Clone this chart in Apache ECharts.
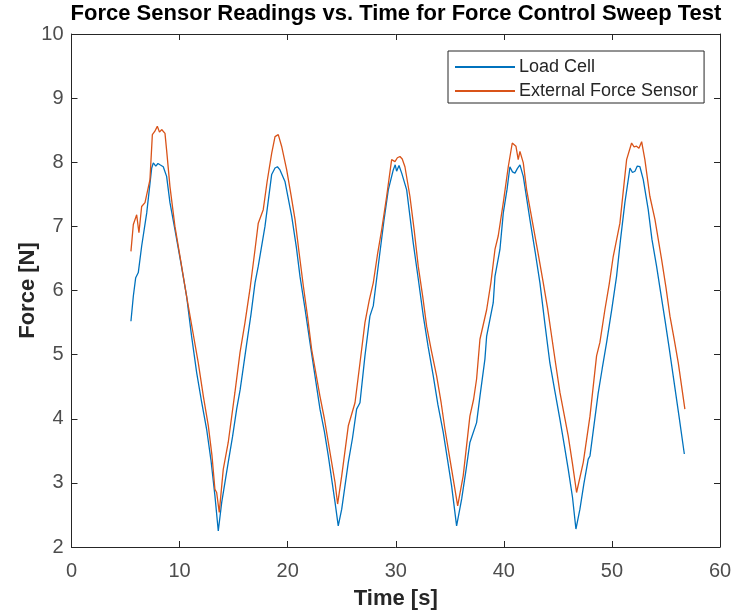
<!DOCTYPE html>
<html>
<head>
<meta charset="utf-8">
<title>Force Sensor Readings</title>
<script src="https://cdn.jsdelivr.net/npm/echarts@6/dist/echarts.min.js"></script>
<style>
  html, body { margin: 0; padding: 0; background: #fff; }
  #chart { width: 735px; height: 615px; }
</style>
</head>
<body>
<div id="chart"></div>
<script>
// Load cell samples: time [s] and force [N]
const loadCellTime = [5.5, 5.72, 5.94, 6.18, 6.49, 6.96, 7.42, 7.57, 7.8, 8.0, 8.19, 8.49, 8.8, 9.11, 9.57, 10.1, 10.65, 11.1, 11.58, 12.0, 12.5, 12.9, 13.27, 13.58, 13.9, 14.5, 14.9, 15.28, 15.6, 16.2, 16.6, 16.98, 17.28, 17.9, 18.52, 18.83, 19.05, 19.29, 19.75, 20.37, 20.8, 21.14, 21.6, 22.06, 22.5, 22.99, 23.4, 23.76, 24.38, 24.68, 25.0, 25.61, 26.0, 26.38, 26.69, 27.15, 27.61, 27.92, 28.54, 28.9, 29.31, 29.77, 29.95, 30.08, 30.3, 30.55, 31.01, 31.62, 32.1, 32.55, 33.0, 33.47, 33.9, 34.39, 34.8, 35.17, 35.63, 36.1, 36.5, 36.86, 37.48, 37.79, 38.25, 38.41, 39.02, 39.18, 39.64, 39.95, 40.3, 40.56, 40.8, 41.03, 41.25, 41.49, 41.8, 42.41, 42.9, 43.34, 43.8, 44.26, 44.7, 45.19, 45.6, 45.96, 46.35, 46.67, 47.04, 47.4, 47.81, 47.97, 48.73, 49.1, 49.51, 50.0, 50.43, 50.8, 51.2, 51.67, 51.9, 52.13, 52.35, 52.59, 52.9, 53.36, 53.7, 54.13, 54.5, 54.9, 55.3, 55.67, 56.2, 56.7];
const loadCellForce = [5.52, 5.91, 6.2, 6.28, 6.69, 7.21, 7.91, 7.99, 7.94, 7.98, 7.96, 7.93, 7.78, 7.37, 6.95, 6.45, 5.91, 5.3, 4.72, 4.3, 3.84, 3.36, 2.8, 2.25, 2.7, 3.32, 3.72, 4.15, 4.45, 5.16, 5.62, 6.12, 6.38, 7.0, 7.81, 7.91, 7.93, 7.88, 7.7, 7.16, 6.68, 6.22, 5.72, 5.19, 4.7, 4.15, 3.8, 3.42, 2.7, 2.33, 2.59, 3.32, 3.7, 4.15, 4.25, 4.98, 5.6, 5.76, 6.6, 7.08, 7.57, 7.88, 7.96, 7.86, 7.95, 7.83, 7.57, 6.74, 6.16, 5.6, 5.12, 4.67, 4.22, 3.79, 3.35, 2.95, 2.33, 2.75, 3.2, 3.63, 3.94, 4.35, 4.93, 5.29, 5.81, 6.22, 6.64, 7.21, 7.58, 7.93, 7.85, 7.83, 7.9, 7.96, 7.78, 7.11, 6.6, 6.12, 5.48, 4.87, 4.45, 3.99, 3.58, 3.21, 2.78, 2.28, 2.59, 2.98, 3.37, 3.42, 4.4, 4.78, 5.19, 5.72, 6.22, 6.8, 7.37, 7.91, 7.84, 7.86, 7.94, 7.93, 7.73, 7.26, 6.8, 6.38, 5.98, 5.55, 5.1, 4.67, 4.05, 3.45];

// External force sensor samples: time [s] and force [N]
const sensorTime = [5.5, 5.72, 6.03, 6.24, 6.49, 6.8, 7.26, 7.48, 7.7, 7.94, 8.14, 8.34, 8.65, 8.8, 9.11, 9.57, 10.1, 10.65, 11.2, 11.73, 12.2, 12.66, 13.0, 13.27, 13.43, 13.67, 14.04, 14.5, 15.12, 15.59, 16.05, 16.51, 16.98, 17.28, 17.74, 18.1, 18.52, 18.83, 19.13, 19.44, 19.91, 20.3, 20.68, 21.05, 21.45, 21.85, 22.22, 22.6, 22.99, 23.4, 23.76, 24.38, 24.62, 25.0, 25.61, 26.23, 26.69, 27.15, 27.55, 27.92, 28.3, 28.7, 29.16, 29.62, 29.93, 30.15, 30.39, 30.6, 30.85, 31.31, 31.7, 32.08, 32.5, 32.86, 33.3, 33.78, 34.2, 34.55, 35.17, 35.73, 36.24, 36.86, 37.2, 37.48, 37.79, 38.41, 38.8, 39.18, 39.48, 39.95, 40.41, 40.78, 40.95, 41.12, 41.33, 41.49, 41.8, 42.11, 42.72, 43.2, 43.65, 44.05, 44.42, 44.8, 45.19, 45.6, 45.96, 46.35, 46.73, 47.35, 47.97, 48.58, 48.89, 49.35, 49.75, 50.12, 50.74, 51.05, 51.36, 51.82, 52.05, 52.28, 52.5, 52.75, 53.05, 53.51, 53.98, 54.6, 55.0, 55.37, 55.75, 56.14, 56.75];
const sensorForce = [6.61, 7.03, 7.18, 6.9, 7.31, 7.37, 7.73, 8.43, 8.48, 8.56, 8.47, 8.51, 8.45, 8.19, 7.62, 7.0, 6.47, 5.91, 5.38, 4.87, 4.35, 3.89, 3.42, 2.9, 2.85, 2.54, 3.21, 3.63, 4.41, 5.03, 5.5, 6.02, 6.64, 7.05, 7.26, 7.7, 8.14, 8.4, 8.43, 8.25, 7.88, 7.5, 7.11, 6.6, 6.07, 5.58, 5.08, 4.72, 4.35, 4.0, 3.63, 3.01, 2.67, 3.11, 3.89, 4.25, 4.87, 5.5, 5.85, 6.12, 6.55, 6.95, 7.47, 8.04, 8.01, 8.07, 8.09, 8.05, 7.93, 7.47, 6.95, 6.38, 5.9, 5.44, 5.06, 4.67, 4.25, 3.84, 3.21, 2.64, 3.11, 4.04, 4.3, 4.62, 5.24, 5.7, 6.12, 6.64, 6.85, 7.37, 7.93, 8.3, 8.28, 8.25, 8.04, 8.17, 7.99, 7.57, 7.0, 6.55, 6.12, 5.72, 5.29, 4.85, 4.41, 4.05, 3.73, 3.3, 2.85, 3.32, 4.04, 4.98, 5.19, 5.7, 6.1, 6.53, 7.05, 7.55, 8.04, 8.3, 8.24, 8.25, 8.22, 8.32, 8.04, 7.47, 7.11, 6.48, 6.05, 5.6, 5.25, 4.87, 4.15];

// Axis ranges and ticks
const xTicks = [0, 10, 20, 30, 40, 50, 60];
const yTicks = [2, 3, 4, 5, 6, 7, 8, 9, 10];

const seriesNames = ['Load Cell', 'External Force Sensor'];

const pairs = (t, v) => t.map((x, i) => [x, v[i]]);

const axisColor = '#262626';
const labelColor = '#4d4d4d';
const font = 'Liberation Sans, Arial, Helvetica, sans-serif';

const chart = echarts.init(document.getElementById('chart'), null, { renderer: 'canvas' });

const baseX = {
  type: 'value',
  min: xTicks[0],
  max: xTicks[xTicks.length - 1],
  interval: 10,
  splitLine: { show: false },
  axisLine: { show: true, onZero: false, lineStyle: { color: axisColor, width: 1 } },
  axisTick: { show: true, inside: true, length: 6, lineStyle: { color: axisColor } }
};
const baseY = {
  type: 'value',
  min: yTicks[0],
  max: yTicks[yTicks.length - 1],
  interval: 1,
  splitLine: { show: false },
  axisLine: { show: true, onZero: false, lineStyle: { color: axisColor, width: 1 } },
  axisTick: { show: true, inside: true, length: 6, lineStyle: { color: axisColor } }
};

chart.setOption({
  animation: false,
  backgroundColor: '#ffffff',
  title: {
    text: 'Force Sensor Readings vs. Time for Force Control Sweep Test',
    left: 391,
    textAlign: 'center',
    top: -2,
    textStyle: { fontFamily: font, fontSize: 22, fontWeight: 'bold', color: '#000' }
  },
  grid: { left: 71.5, right: 15, top: 34, bottom: 67, containLabel: false },
  legend: {
    orient: 'vertical',
    left: 448,
    top: 51,
    padding: [7, 6, 3, 7],
    itemGap: 6,
    itemWidth: 60,
    itemHeight: 2,
    icon: 'rect',
    borderColor: axisColor,
    borderWidth: 1,
    backgroundColor: '#fff',
    textStyle: { fontFamily: font, fontSize: 18, color: axisColor, padding: [0, 0, 0, -1] },
    data: seriesNames
  },
  xAxis: [
    Object.assign({}, baseX, {
      position: 'bottom',
      name: 'Time [s]',
      nameLocation: 'middle',
      nameGap: 41,
      nameMoveOverlap: false,
      nameTextStyle: { fontFamily: font, fontSize: 22, fontWeight: 'bold', color: axisColor },
      axisLabel: { show: true, margin: 14, fontFamily: font, fontSize: 20, color: labelColor }
    }),
    Object.assign({}, baseX, { position: 'top', axisLabel: { show: false } })
  ],
  yAxis: [
    Object.assign({}, baseY, {
      position: 'left',
      name: 'Force [N]',
      nameLocation: 'middle',
      nameGap: 33,
      nameMoveOverlap: false,
      nameTextStyle: { fontFamily: font, fontSize: 22, fontWeight: 'bold', color: axisColor },
      axisLabel: { show: true, margin: 8, fontFamily: font, fontSize: 20, color: labelColor }
    }),
    Object.assign({}, baseY, { position: 'right', axisLabel: { show: false } })
  ],
  series: [
    {
      name: seriesNames[0],
      type: 'line',
      data: pairs(loadCellTime, loadCellForce),
      showSymbol: false,
      symbol: 'none',
      lineStyle: { color: '#0072BD', width: 1.3 },
      itemStyle: { color: '#0072BD' }
    },
    {
      name: seriesNames[1],
      type: 'line',
      data: pairs(sensorTime, sensorForce),
      showSymbol: false,
      symbol: 'none',
      lineStyle: { color: '#D95319', width: 1.3 },
      itemStyle: { color: '#D95319' }
    }
  ]
});
</script>
</body>
</html>
